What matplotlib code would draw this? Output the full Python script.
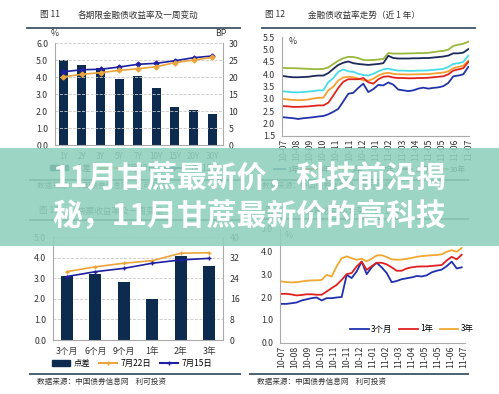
import matplotlib
matplotlib.use("Agg")
import matplotlib.pyplot as plt
from matplotlib.patches import Rectangle, Patch
from matplotlib.lines import Line2D
import numpy as np

plt.rcParams['font.family'] = ['Noto Sans CJK SC', 'DejaVu Sans']

# ---- data ----
terms11 = ['1Y', '2Y', '3Y', '5Y', '7Y', '10Y', '15Y', '20Y', '30Y']
bp11 = [25.0, 23.6, 22.8, 19.5, 20.4, 16.9, 11.3, 10.2, 9.1]
jul15_11 = [4.32, 4.44, 4.47, 4.6, 4.76, 4.82, 4.97, 5.15, 5.25]
jul22_11 = [4.02, 4.17, 4.27, 4.4, 4.5, 4.62, 4.86, 5.01, 5.17]

terms13 = ['3个月', '6个月', '9个月', '1年', '2年', '3年']
spread13 = [3.13, 3.21, 2.84, 1.98, 4.1, 3.62]
jul22_13 = [26.6, 28.5, 29.9, 30.9, 33.8, 34.0]
jul15_13 = [24.7, 26.6, 27.9, 29.9, 31.2, 31.8]

month_labels = ['10-07', '10-08', '10-09', '10-10', '10-11', '10-11', '10-12', '11-01',
                '11-02', '11-03', '11-04', '11-05', '11-05', '11-06', '11-07']

fin_30y = [4.26, 4.25, 4.25, 4.24, 4.23, 4.22, 4.21, 4.21, 4.22, 4.28, 4.42, 4.55, 4.65, 4.71, 4.7, 4.66,
           4.58, 4.57, 4.58, 4.6, 4.62, 4.86, 4.84, 4.84, 4.84, 4.85, 4.85, 4.86, 4.86, 4.87, 4.9, 4.93,
           4.95, 5.0, 5.15, 5.2, 5.24, 5.32]
fin_10y = [3.93, 3.9, 3.88, 3.88, 3.89, 3.9, 3.93, 3.95, 3.95, 4.05, 4.22, 4.38, 4.47, 4.52, 4.45, 4.42,
           4.4, 4.38, 4.4, 4.42, 4.45, 4.75, 4.66, 4.64, 4.64, 4.64, 4.65, 4.65, 4.66, 4.66, 4.68, 4.7,
           4.72, 4.76, 4.85, 4.85, 4.88, 5.02]
fin_7y = [3.31, 3.29, 3.27, 3.27, 3.28, 3.3, 3.32, 3.35, 3.35, 3.68, 3.85, 4.1, 4.2, 4.12, 4.1, 4.02,
          3.97, 3.95, 4.02, 4.12, 4.2, 4.23, 4.18, 4.15, 4.15, 4.14, 4.14, 4.15, 4.15, 4.16, 4.18, 4.2,
          4.22, 4.3, 4.42, 4.45, 4.5, 4.76]
fin_5y = [3.0, 2.98, 2.96, 2.95, 2.96, 2.98, 3.02, 3.05, 3.05, 3.35, 3.5, 3.75, 3.87, 3.9, 3.88, 3.83,
          3.76, 3.74, 3.82, 3.95, 4.03, 4.06, 4.02, 4.0, 4.0, 3.99, 4.0, 4.0, 4.01, 4.01, 4.03, 4.05,
          4.07, 4.12, 4.25, 4.3, 4.35, 4.55]
fin_3y = [2.71, 2.7, 2.68, 2.68, 2.69, 2.7, 2.72, 2.74, 2.74, 2.85, 3.14, 3.45, 3.7, 3.8, 3.8, 3.8,
          3.85, 3.68, 3.62, 3.8, 3.9, 3.92, 3.87, 3.85, 3.85, 3.84, 3.84, 3.85, 3.85, 3.86, 3.88, 3.9,
          3.92, 4.0, 4.15, 4.2, 4.25, 4.5]
fin_1y = [2.26, 2.24, 2.22, 2.19, 2.22, 2.24, 2.26, 2.29, 2.31, 2.38, 2.48, 2.6, 2.9, 3.21, 3.25, 3.45,
          3.62, 3.28, 3.4, 3.57, 3.55, 3.67, 3.58, 3.38, 3.35, 3.32, 3.35, 3.42, 3.46, 3.42, 3.45, 3.47,
          3.52, 3.65, 3.92, 3.95, 4.0, 4.3]

cb_3m = [1.70, 1.70, 1.73, 1.76, 1.85, 1.90, 1.95, 1.98, 1.85, 1.95, 1.95, 1.98, 2.00, 2.97, 2.83, 3.12,
         3.55, 3.00, 3.30, 3.50, 3.30, 3.05, 2.65, 2.70, 2.78, 2.82, 2.86, 2.92, 2.90, 2.95, 3.08, 3.15,
         3.20, 3.35, 3.55, 3.25, 3.30]
cb_1y = [2.14, 2.14, 2.11, 2.07, 2.09, 2.12, 2.12, 2.10, 2.10, 2.24, 2.39, 2.53, 2.75, 3.00, 3.05, 3.34,
         3.55, 3.19, 3.35, 3.50, 3.50, 3.43, 3.30, 3.15, 3.15, 3.25, 3.30, 3.33, 3.34, 3.34, 3.36, 3.38,
         3.40, 3.60, 3.76, 3.65, 3.85]
cb_3y = [2.68, 2.65, 2.64, 2.65, 2.68, 2.71, 2.73, 2.73, 2.75, 2.97, 2.90, 3.34, 3.70, 3.78, 3.70, 3.63,
         3.68, 3.56, 3.68, 3.82, 3.83, 3.75, 3.65, 3.63, 3.64, 3.67, 3.71, 3.76, 3.79, 3.81, 3.83, 3.84,
         3.87, 3.98, 4.05, 3.98, 4.15]

W, H = 499, 394
fig = plt.figure(figsize=(W / 100, H / 100), dpi=100)
fig.patch.set_facecolor('white')

TXT = '#333333'
SP = '#aaaaaa'
NAVY = '#0d2a4f'
ORANGE = '#eba43c'
BLUE = '#1d20a0'
FS = 6.3


def box(x0, y0, x1, y1):
    return fig.add_axes([x0 / W, 1 - y1 / H, (x1 - x0) / W, (y1 - y0) / H])


def ftext(x, y, s, **kw):
    kw.setdefault('color', TXT)
    kw.setdefault('va', 'center')
    fig.text(x / W, 1 - y / H, s, **kw)


def rule(x0, x1, y):
    fig.add_artist(Line2D([x0 / W, x1 / W], [1 - y / H] * 2, color='#4d6272', lw=1.4,
                          transform=fig.transFigure))


def style(ax, grid=False):
    for s in ['top', 'right']:
        ax.spines[s].set_visible(False)
    for s in ['left', 'bottom']:
        ax.spines[s].set_color(SP)
        ax.spines[s].set_linewidth(0.8)
    ax.tick_params(labelsize=FS, colors=TXT, length=0, pad=5)
    if grid:
        ax.yaxis.grid(True, ls='--', color='#c8c8c8', lw=0.6)
        ax.set_axisbelow(True)


# ---- 图11 ----
ftext(40, 15, '图 11', fontsize=6.2)
ftext(78, 15, '各期限金融债收益率及一周变动', fontsize=6.2)
rule(27, 240, 28)
ax = box(55, 43.3, 222.7, 145)
style(ax, grid=True)
x = np.arange(len(terms11))
ax2 = ax.twinx()
ax2.bar(x, bp11, width=0.48, color=NAVY, zorder=2)
ax2.set_ylim(0, 30)
ax2.set_yticks(range(0, 31, 5))
ax2.tick_params(labelsize=FS, colors=TXT, length=0, pad=4)
for s in ['top', 'left', 'bottom']:
    ax2.spines[s].set_visible(False)
ax2.spines['right'].set_color(SP)
ax.set_zorder(ax2.get_zorder() + 1)
ax.patch.set_visible(False)
ax.plot(x, jul15_11, color=BLUE, lw=1.2, marker='D', ms=2.5)
ax.plot(x, jul22_11, color=ORANGE, lw=1.2, marker='D', ms=2.5)
ax.set_ylim(0, 6)
ax.set_yticks(np.arange(0, 6.1, 1))
ax.set_yticklabels([f'{v:.1f}' for v in np.arange(0, 6.1, 1)])
ax.set_xlim(-0.45, 8.57)
ax.set_xticks(x)
ax.set_xticklabels(terms11, fontsize=5.8)
ax2.set_xlim(-0.45, 8.57)
ftext(55, 34, '%', fontsize=FS, ha='center')
ftext(221, 34, 'BP', fontsize=FS, ha='center')
h = [Patch(color=NAVY), Line2D([], [], color=ORANGE, marker='D', ms=2.5),
     Line2D([], [], color=BLUE, marker='D', ms=2.5)]
fig.legend(h, ['点差', '7月22日', '7月15日'], loc='center', bbox_to_anchor=(135 / W, 1 - 168 / H),
           ncol=3, frameon=False, fontsize=6, handlelength=2.2, columnspacing=1.0)
rule(30, 240, 180)
ftext(37, 186, '数据来源：中国债券信息网    利可投资', fontsize=5.5)

# ---- 图12 ----
ftext(265, 15, '图 12', fontsize=6.2)
ftext(308, 15, '金融债收益率走势（近 1 年）', fontsize=6.2)
rule(262, 475, 28)
ax = box(282, 37.3, 469, 136)
style(ax)
t = np.arange(len(fin_1y))
cols12 = ['#9bb83b', '#1b2a59', '#48dde6', '#f5a030', '#e0241c', '#2233aa']
names12 = ['30年', '10年', '7年', '5年', '3年', '1年']
for ser, c in zip([fin_30y, fin_10y, fin_7y, fin_5y, fin_3y, fin_1y], cols12):
    ax.plot(t, ser, color=c, lw=1.3)
ax.set_ylim(1.5, 5.5)
ax.set_yticks(np.arange(1.5, 5.6, 0.5))
ax.set_yticklabels([f'{v:.1f}' for v in np.arange(1.5, 5.6, 0.5)])
ax.set_xlim(-0.26, 37.14)
ax.set_xticks(np.linspace(0, 37, len(month_labels)))
ax.set_xticklabels(month_labels, rotation=90)
ax.tick_params(axis='x', pad=2)
ftext(293, 42, '%', fontsize=FS, ha='center')
h = [Line2D([], [], color=c, lw=1.3) for c in cols12[::-1]]
fig.legend(h, names12[::-1], loc='center', bbox_to_anchor=(370 / W, 1 - 170 / H),
           ncol=6, frameon=False, fontsize=5.5, handlelength=1.5, columnspacing=0.8,
           handletextpad=0.3)
rule(262, 468, 180)
ftext(262, 186, '数据来源：中国债券信息网    利可投资', fontsize=5.5)

# ---- 图13 ----
ftext(39, 211, '图 13', fontsize=6.2)
ftext(78, 211, '央票收益率及一周变动', fontsize=6.2)
rule(30, 240, 220)
ax = box(53, 237.3, 223, 340)
style(ax, grid=True)
x = np.arange(len(terms13))
ax.bar(x, spread13, width=0.41, color=NAVY, zorder=2)
ax.set_ylim(0, 5)
ax.set_yticks(np.arange(0, 5.1, 1))
ax.set_yticklabels([f'{v:.1f}' for v in np.arange(0, 5.1, 1)])
ax.set_xlim(-0.48, 5.48)
ax.set_xticks(x)
ax.set_xticklabels(terms13)
ax2 = ax.twinx()
ax2.plot(x, jul22_13, color=ORANGE, lw=1.2, marker='+', ms=3.5, mew=1)
ax2.plot(x, jul15_13, color=BLUE, lw=1.2, marker='+', ms=3.5, mew=1)
ax2.set_ylim(0, 40)
ax2.set_yticks(range(0, 41, 8))
ax2.tick_params(labelsize=FS, colors=TXT, length=0, pad=5)
for s in ['top', 'left', 'bottom']:
    ax2.spines[s].set_visible(False)
ax2.spines['right'].set_color(SP)
h = [Patch(color=NAVY), Line2D([], [], color=ORANGE, marker='+', ms=3.5),
     Line2D([], [], color=BLUE, marker='+', ms=3.5)]
fig.legend(h, ['点差', '7月22日', '7月15日'], loc='center', bbox_to_anchor=(132 / W, 1 - 363 / H),
           ncol=3, frameon=False, fontsize=6, handlelength=2.2, columnspacing=1.0,
           handletextpad=0.4)
rule(30, 240, 374)
ftext(37, 382, '数据来源：中国债券信息网    利可投资', fontsize=5.5)

# ---- 图14 ----
ftext(265, 211, '图 14', fontsize=6.2)
ftext(305, 211, '央票收益率走势（近 1 年）', fontsize=6.2)
rule(262, 468, 219)
ax = box(280, 228.5, 465, 342.7)
style(ax)
t = np.arange(len(cb_3m))
ax.plot(t, cb_3m, color='#2030b0', lw=1.3, label='3个月')
ax.plot(t, cb_1y, color='#e02020', lw=1.3, label='1年')
ax.plot(t, cb_3y, color='#f0a830', lw=1.3, label='3年')
ax.set_ylim(0, 5)
ax.set_yticks(np.arange(0, 5.1, 1))
ax.set_yticklabels([f'{v:.1f}' for v in np.arange(0, 5.1, 1)])
ax.set_xlim(-0.33, 36.66)
ax.set_xticks(np.linspace(0.1, 36.3, len(month_labels)))
ax.set_xticklabels(month_labels, rotation=90)
ax.tick_params(axis='x', pad=2)
ax.legend(loc='center', bbox_to_anchor=(412 / W, 1 - 329 / H), bbox_transform=fig.transFigure,
          ncol=3, frameon=False, fontsize=6, handlelength=2.2, columnspacing=0.8,
          handletextpad=0.3)
ftext(289, 236, '%', fontsize=FS, ha='center')
rule(250, 468, 374)
ftext(257, 382, '数据来源：中国债券信息网    利可投资', fontsize=5.5)

# ---- banner overlay ----
fig.add_artist(Rectangle((0, 1 - 246 / H), 1, 98 / H, transform=fig.transFigure,
                         facecolor=(0.56, 0.815, 0.735), alpha=0.88, edgecolor='none', zorder=10))
for yy, s in [(178, '11月甘蔗最新价，科技前沿揭'), (216, '秘，11月甘蔗最新价的高科技')]:
    fig.text(0.5, 1 - yy / H, s, ha='center', va='center', color='white', fontsize=21.5,
             fontweight='bold', zorder=11)

fig.savefig('out.png', dpi=100)
